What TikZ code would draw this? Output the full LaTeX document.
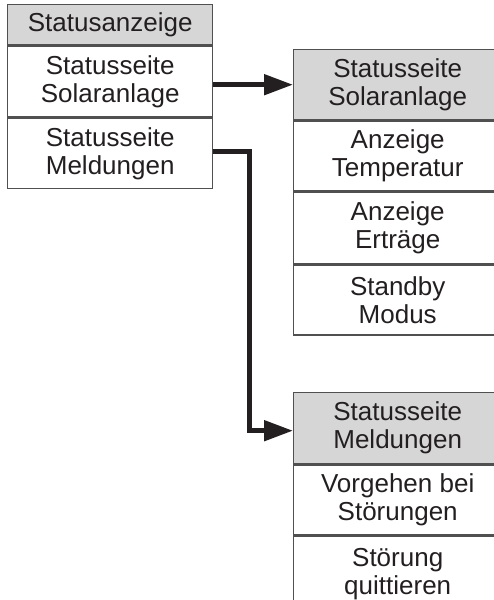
\documentclass[tikz,border=0pt]{standalone}
\usepackage{fontspec}
\setmainfont{Liberation Sans}
\usetikzlibrary{arrows.meta,positioning}
\definecolor{bordercol}{HTML}{505050}
\definecolor{hdrfill}{HTML}{D6D6D6}
\definecolor{ink}{HTML}{231F20}
\tikzset{
  cell/.style={draw=bordercol, line width=1.4pt, fill=white, inner sep=0pt,
    align=center, anchor=north west, text=ink,
    font=\fontsize{26}{28}\selectfont},
  hdr/.style={cell, fill=hdrfill},
  conn/.style={draw=ink, line width=5pt, line join=miter,
    -{Triangle[length=29pt,width=20pt]}}
}
\begin{document}
\begin{tikzpicture}[x=1pt,y=-1pt]
\clip (0,0) rectangle (494,600);
\fill[white] (0,0) rectangle (494,600);
% left box
\node[hdr, minimum width=205pt, minimum height=40pt] (L0) at (7,4) {Statusanzeige};
\node[cell, minimum width=205pt, minimum height=71pt] (L1) at (L0.south west) {Statusseite\\Solaranlage};
\node[cell, minimum width=205pt, minimum height=70pt] (L2) at (L1.south west) {Statusseite\\Meldungen};
% right box 1
\node[hdr, minimum width=208pt, minimum height=70pt] (A0) at (293,49) {Statusseite\\Solaranlage};
\node[cell, minimum width=208pt, minimum height=70pt] (A1) at (A0.south west) {Anzeige\\Temperatur};
\node[cell, minimum width=208pt, minimum height=71pt] (A2) at (A1.south west) {Anzeige\\Erträge};
\node[cell, minimum width=208pt, minimum height=70pt] (A3) at (A2.south west) {Standby\\Modus};
% right box 2
\node[hdr, minimum width=208pt, minimum height=71pt] (B0) at (293,392) {Statusseite\\Meldungen};
\node[cell, minimum width=208pt, minimum height=70pt] (B1) at (B0.south west) {Vorgehen bei\\Störungen};
\node[cell, minimum width=208pt, minimum height=76pt] (B2) at (B1.south west) {Störung\\quittieren};
% connectors
\draw[conn] (L1.east |- A0.west) -- (A0.west);
\draw[conn] ([yshift=2pt]L2.east) -- ++(36,0) |- ([yshift=-2.5pt]B0.west);
\end{tikzpicture}
\end{document}
